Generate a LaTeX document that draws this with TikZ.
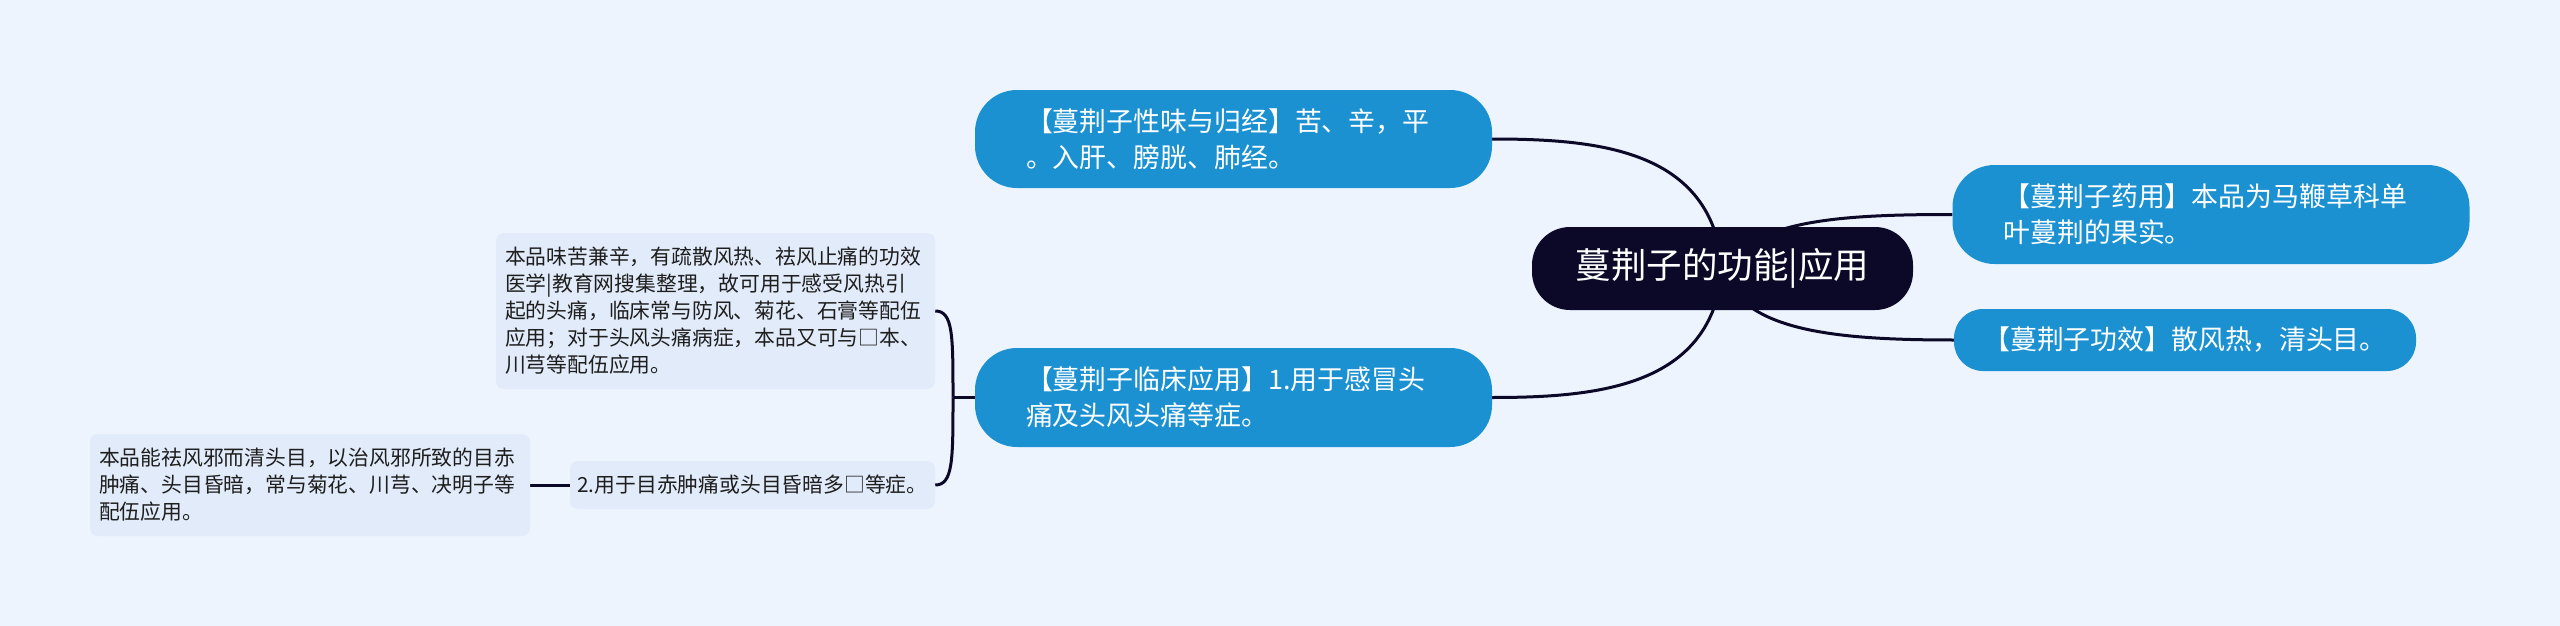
\documentclass[tikz,border=0pt]{standalone}
\usepackage{fontspec}
\setmainfont{Noto Sans CJK SC}
\definecolor{bgc}{RGB}{238,244,254}
\definecolor{bluec}{RGB}{27,145,210}
\definecolor{rootc}{RGB}{11,8,40}
\definecolor{leafc}{RGB}{226,235,250}
\definecolor{leaftext}{RGB}{30,30,30}
\pgfdeclarelayer{bglayer}
\pgfdeclarelayer{edgelayer}
\pgfsetlayers{bglayer,edgelayer,main}
\begin{document}
\begin{tikzpicture}[x=1pt,y=-1pt,
  conn/.style={draw=rootc, line width=3pt},
  rootbox/.style={fill=rootc, text=white, rounded corners=38pt, minimum width=381pt, minimum height=83pt, inner sep=0pt, font=\fontsize{35.5}{40}\selectfont},
  bluebox/.style={fill=bluec, text=white, rounded corners=42pt, minimum width=517pt, minimum height=98pt, inner xsep=51pt, inner ysep=0pt, text width=415pt, align=left, font=\fontsize{26.9}{36}\selectfont},
  blueone/.style={fill=bluec, text=white, rounded corners=29pt, minimum width=462pt, minimum height=62pt, inner sep=0pt, font=\fontsize{26.9}{36}\selectfont},
  leafbox/.style={fill=leafc, text=leaftext, rounded corners=8pt, inner xsep=9pt, inner ysep=0pt, align=left, font=\fontsize{20.8}{27}\selectfont},
]
\begin{pgfonlayer}{bglayer}
\fill[bgc] (0,0) rectangle (2560,626);
\end{pgfonlayer}
\useasboundingbox (0,0) rectangle (2560,626);

\node[rootbox] (root) at (1722.5,268.5) {蔓荆子的功能|应用};
\node[bluebox] (xw) at (1233.5,139) {【蔓荆子性味与归经】苦、辛，平\\。入肝、膀胱、肺经。};
\node[bluebox, minimum height=99pt] (lc) at (1233.5,397.5) {【蔓荆子临床应用】1.用于感冒头\\痛及头风头痛等症。};
\node[bluebox, minimum width=516pt, minimum height=99pt] (yy) at (2211,214.5) {【蔓荆子药用】本品为马鞭草科单\\叶蔓荆的果实。};
\node[blueone] (gx) at (2185,340) {【蔓荆子功效】散风热，清头目。};
\node[leafbox, text width=421pt, minimum height=156pt] (leafa) at (715.5,311) {本品味苦兼辛，有疏散风热、祛风止痛的功效\\医学|教育网搜集整理，故可用于感受风热引\\起的头痛，临床常与防风、菊花、石膏等配伍\\应用；对于头风头痛病症，本品又可与□本、\\川芎等配伍应用。};
\node[leafbox, minimum width=365pt, minimum height=48pt, inner xsep=0pt] (nb) at (752.5,485) {2.用于目赤肿痛或头目昏暗多□等症。};
\node[leafbox, text width=422pt, minimum height=102pt] (leafb) at (310,485) {本品能祛风邪而清头目，以治风邪所致的目赤\\肿痛、头目昏暗，常与菊花、川芎、决明子等\\配伍应用。};

\coordinate (j) at (953,397.5);

\begin{pgfonlayer}{edgelayer}
\draw[conn] (root.center) .. controls (1712,150) and (1600,139) .. (xw.east);
\draw[conn] (root.center) .. controls (1712,386) and (1600,397.5) .. (lc.east);
\draw[conn] (root.center) .. controls (1755,220) and (1840,214.5) .. (yy.west);
\draw[conn] (root.center) .. controls (1740,330) and (1830,340) .. (gx.west);
\draw[conn] (lc.west) -- (j);
\draw[conn] (j) .. controls (953,335) and (953,311) .. (leafa.east);
\draw[conn] (j) .. controls (953,460) and (953,485) .. (nb.east);
\draw[conn] (nb.west) -- (leafb.east);
\end{pgfonlayer}
\end{tikzpicture}
\end{document}
